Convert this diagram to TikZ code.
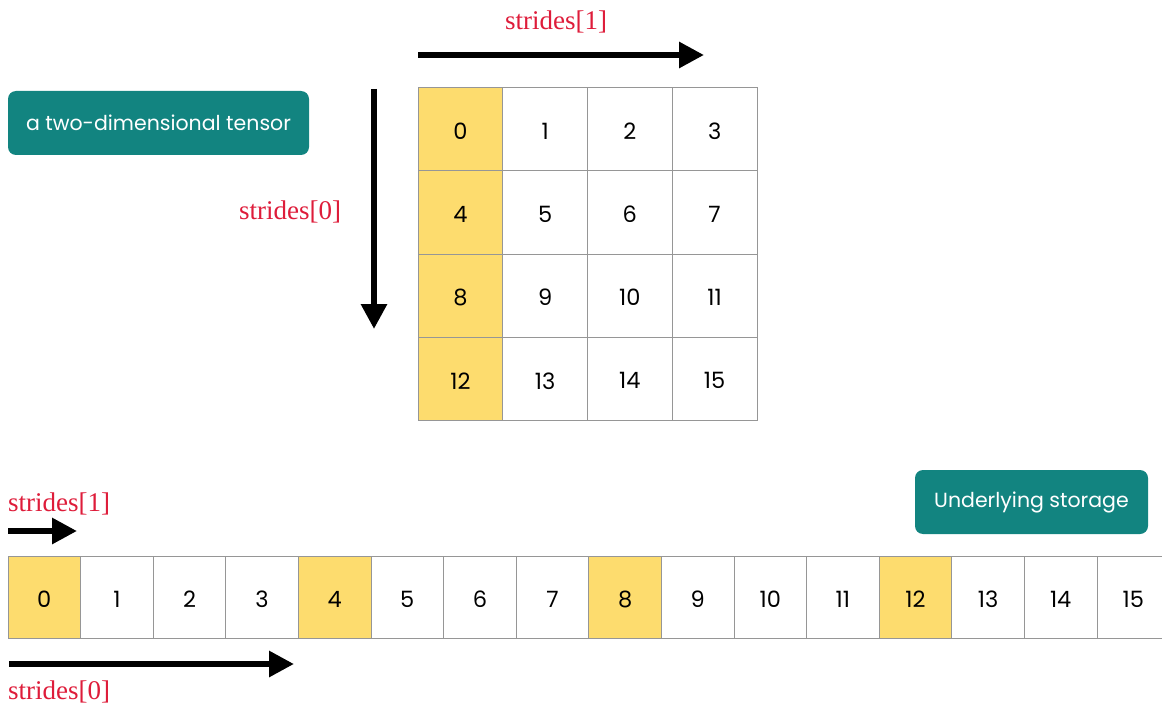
\documentclass[tikz,border=0pt]{standalone}
\usepackage{fontspec}
\setmainfont{Liberation Serif}
\newfontfamily\popp{Poppins}
\usetikzlibrary{arrows.meta}
\definecolor{tealbox}{RGB}{18,132,128}
\definecolor{cellyellow}{RGB}{253,220,110}
\definecolor{stred}{RGB}{222,28,58}
\definecolor{gridgray}{RGB}{150,150,150}
\begin{document}
\begin{tikzpicture}[x=1pt,y=-1pt,
 cell/.style={draw=gridgray, line width=0.8pt, minimum width=84.75pt, minimum height=83.3pt, inner sep=0pt, anchor=center,
   label={[font=\popp\fontsize{22.5}{22.5}\selectfont, inner sep=0pt, yshift=-2pt]center:#1}},
 hl/.style={fill=cellyellow},
 scell/.style={cell=#1, minimum width=72.6pt, minimum height=82pt},
 lbl/.style={text=stred, font=\fontsize{27}{27}\selectfont, inner sep=0pt},
 tagbox/.style={fill=tealbox, rounded corners=8pt, text=white, font=\popp\fontsize{20.5}{20.5}\selectfont, inner sep=0pt},
 bigarrow/.style={line width=6pt, -{Triangle[length=25pt,width=25pt]}}
]
\useasboundingbox (0,0) rectangle (1162,706);
\clip (0,0) rectangle (1162,706);
% grid
\foreach \r in {0,...,3}{
  \foreach \c in {0,...,3}{
    \pgfmathtruncatemacro{\n}{4*\r+\c}
    \pgfmathsetmacro{\cx}{418+84.75*(\c+0.5)}
    \pgfmathsetmacro{\cy}{87.3+83.3*(\r+0.5)}
    \ifnum\c=0
      \node[cell=\n,hl] (g\n) at (\cx,\cy) {};
    \else
      \node[cell=\n] (g\n) at (\cx,\cy) {};
    \fi
  }
}
% storage
\foreach \i in {0,...,15}{
  \pgfmathsetmacro{\sx}{8+72.6*(\i+0.5)}
  \pgfmathtruncatemacro{\m}{mod(\i,4)}
  \ifnum\m=0
    \node[scell=\i,hl] (s\i) at (\sx,597) {};
  \else
    \node[scell=\i] (s\i) at (\sx,597) {};
  \fi
}
% tag boxes
\node[tagbox, minimum width=301pt, minimum height=64pt] (t1) at (158.5,123) {a two-dimensional tensor};
\node[tagbox, minimum width=233pt, minimum height=64pt] (t2) at (1031.5,502) {Underlying storage};
% labels
\node[lbl] (l1) at (556,22) {strides[1]};
\node[lbl] (l2) at (290,212) {strides[0]};
\node[lbl, anchor=west] (l3) at (8,504) {strides[1]};
\node[lbl, anchor=west] (l4) at (8,692) {strides[0]};
% arrows
\coordinate (a1s) at (418,55); \coordinate (a1e) at (704,55);
\coordinate (a2s) at (374,89); \coordinate (a2e) at (374,329);
\coordinate (a3s) at (8,531); \coordinate (a3e) at (77,531);
\coordinate (a4s) at (9,664); \coordinate (a4e) at (294,664);
\draw[bigarrow] (a1s) -- (a1e);
\draw[bigarrow] (a2s) -- (a2e);
\draw[bigarrow] (a3s) -- (a3e);
\draw[bigarrow] (a4s) -- (a4e);
\end{tikzpicture}
\end{document}
